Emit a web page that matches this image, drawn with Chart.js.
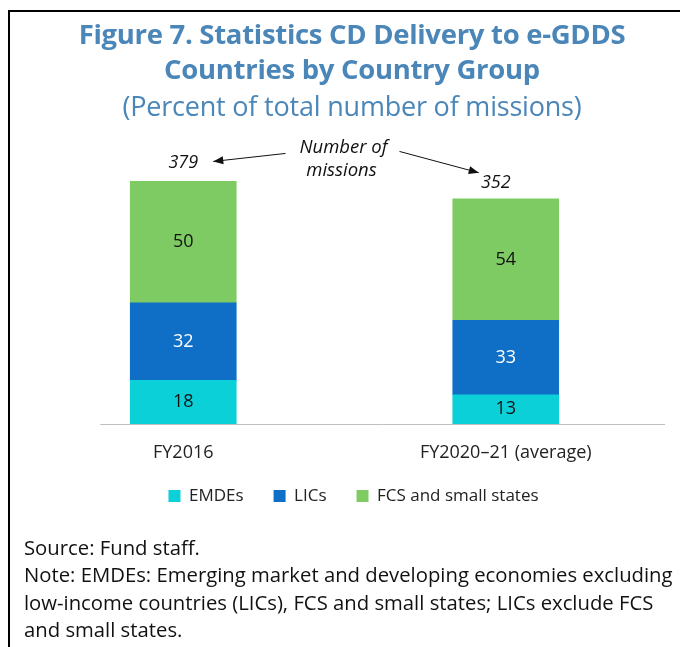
<!DOCTYPE html>
<html>
<head>
<meta charset="utf-8">
<script src="https://cdn.jsdelivr.net/npm/chart.js@4.4.1/dist/chart.umd.min.js"></script>
<style>
  body { margin: 0; background: #fff; font-family: "Open Sans", "Noto Sans", sans-serif; }
  #page { position: relative; width: 680px; height: 647px; overflow: hidden; }
  #frame { position: absolute; left: 8px; top: 10px; right: -4px; bottom: -4px; border-left: 2px solid #000; border-top: 2px solid #000; }
  #wrap { position: absolute; left: 0; top: 0; width: 680px; height: 647px; }
  .title { position: absolute; left: 12px; width: 680px; text-align: center; color: #4a86b8; white-space: nowrap; line-height: 36px; }
  .t1 { font-weight: 700; font-size: 27.5px; letter-spacing: -0.3px; }
  .t2 { font-size: 27px; letter-spacing: -0.2px; }
  #notes { position: absolute; left: 24px; top: 534px; font-size: 20.3px; line-height: 27.3px; color: #111; white-space: nowrap; letter-spacing: 0px; }
</style>
</head>
<body>
<div id="page">
  <div id="frame"></div>
  <div id="wrap"><canvas id="chart"></canvas></div>
  <div class="title t1" style="top:16px">Figure 7. Statistics CD Delivery to e-GDDS</div>
  <div class="title t1" style="top:51px">Countries by Country Group</div>
  <div class="title t2" style="top:88px">(Percent of total number of missions)</div>
  <div id="notes">Source: Fund staff.<br>Note: EMDEs: Emerging market and developing economies excluding<br>low-income countries (LICs), FCS and small states; LICs exclude FCS<br>and small states.</div>
</div>
<script>
// data
var categories = ['FY2016', 'FY2020\u201321 (average)'];
var totalMissions = [379, 352];
var emdesPct = [18, 13];
var licsPct = [32, 33];
var fcsPct = [50, 54];

// bars are drawn in missions, labelled in percent
function toMissions(pct) {
    return pct.map(function (p, i) { return p * totalMissions[i] / 100; });
}

var labelPlugin = {
    id: 'labels',
    afterLayout: function (chart) {
        // nudge the legend a little, as in the original
        chart.legend.left += 9;
        chart.legend.right += 9;
        chart.legend.top -= 6;
        chart.legend.bottom -= 6;
    },
    afterDatasetsDraw: function (chart) {
        var ctx = chart.ctx;
        var pcts = [emdesPct, licsPct, fcsPct];
        var colors = ['#111', '#fff', '#111'];
        ctx.save();
        ctx.textAlign = 'center';
        ctx.textBaseline = 'middle';
        ctx.font = '18px "Open Sans"';
        chart.data.datasets.forEach(function (ds, d) {
            chart.getDatasetMeta(d).data.forEach(function (bar, i) {
                ctx.fillStyle = colors[d];
                ctx.fillText(pcts[d][i], bar.x, (bar.y + bar.base) / 2);
            });
        });

        // totals above the bars
        var top = chart.getDatasetMeta(2).data;
        ctx.font = 'italic 18px "Open Sans"';
        ctx.fillStyle = '#111';
        var labelY = [top[0].y - 19, top[1].y - 16];
        ctx.fillText(totalMissions[0], top[0].x, labelY[0]);
        ctx.fillText(totalMissions[1], top[1].x - 10, labelY[1]);

        // "Number of missions" note with arrows
        var mid = (top[0].x + top[1].x) / 2;
        ctx.font = 'italic 18.5px "Open Sans"';
        ctx.fillText('Number of', mid - 1, labelY[0] - 15);
        ctx.fillText('missions', mid - 3, labelY[0] + 8);

        function arrow(x1, y1, x2, y2) {
            var a = Math.atan2(y2 - y1, x2 - x1);
            ctx.strokeStyle = '#111';
            ctx.fillStyle = '#111';
            ctx.lineWidth = 1;
            ctx.beginPath();
            ctx.moveTo(x1, y1);
            ctx.lineTo(x2, y2);
            ctx.stroke();
            ctx.beginPath();
            ctx.moveTo(x2, y2);
            ctx.lineTo(x2 - 10 * Math.cos(a) + 4 * Math.sin(a), y2 - 10 * Math.sin(a) - 4 * Math.cos(a));
            ctx.lineTo(x2 - 10 * Math.cos(a) - 4 * Math.sin(a), y2 - 10 * Math.sin(a) + 4 * Math.cos(a));
            ctx.closePath();
            ctx.fill();
        }
        arrow(mid - 59, labelY[0] - 9, top[0].x + 30, labelY[0] - 1);
        arrow(mid + 55, labelY[0] - 11, top[1].x - 27, labelY[1] - 10);

        // baseline
        var area = chart.chartArea;
        ctx.strokeStyle = '#bfbfbf';
        ctx.lineWidth = 1;
        ctx.beginPath();
        ctx.moveTo(top[0].x - 83, area.bottom + 0.5);
        ctx.lineTo(area.right - 2, area.bottom + 0.5);
        ctx.stroke();
        ctx.restore();
    }
};

var ctx = document.getElementById('chart').getContext('2d');
var chart = new Chart(ctx, {
    type: 'bar',
    data: {
        labels: categories,
        datasets: [
            { label: 'EMDEs', data: toMissions(emdesPct), backgroundColor: '#0cd0d8' },
            { label: 'LICs', data: toMissions(licsPct), backgroundColor: '#0f6ec6' },
            { label: 'FCS and small states', data: toMissions(fcsPct), backgroundColor: '#7fcb63' }
        ]
    },
    options: {
        responsive: true,
        maintainAspectRatio: false,
        animation: false,
        layout: { padding: { left: 22, right: 13, top: 168, bottom: 126.4 } },
        datasets: { bar: { barThickness: 106 } },
        scales: {
            x: {
                stacked: true,
                grid: { display: false, tickLength: 18 },
                border: { display: false },
                ticks: { color: '#222', font: { family: 'Open Sans', size: 18 }, padding: 0 }
            },
            y: { stacked: true, display: false, min: 0, max: 400 }
        },
        plugins: {
            legend: {
                position: 'bottom',
                labels: {
                    boxWidth: 12, boxHeight: 12, padding: 30, color: '#222',
                    font: { family: 'Open Sans', size: 17 }
                }
            },
            tooltip: { enabled: false }
        }
    },
    plugins: [labelPlugin]
});
</script>
</body>
</html>
